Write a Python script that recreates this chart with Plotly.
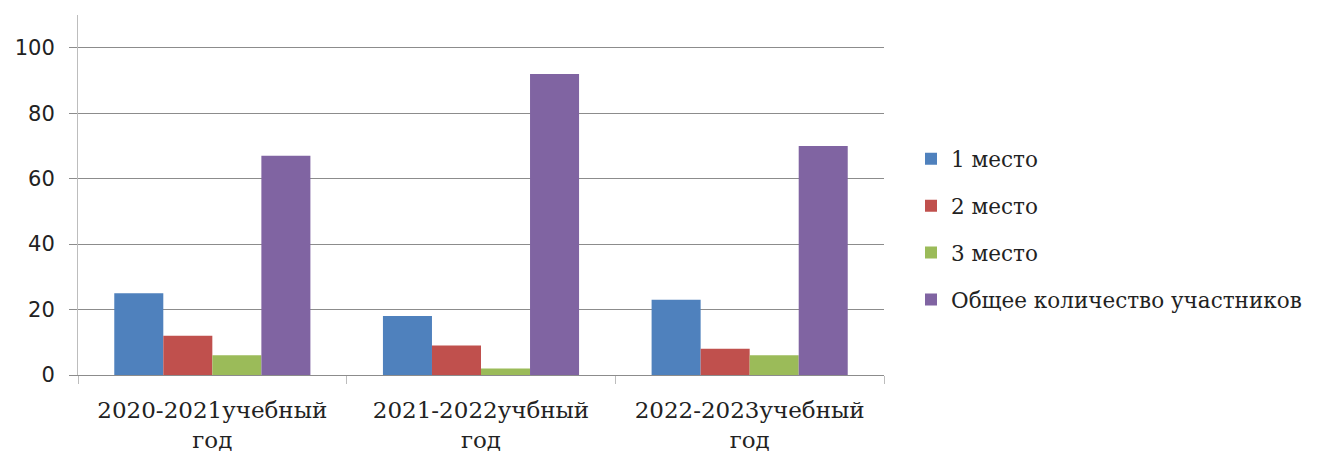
import plotly.graph_objects as go

categories = ["2020-2021учебный<br>год", "2021-2022учбный<br>год", "2022-2023учебный<br>год"]
series_names = ["1 место", "2 место", "3 место", "Общее количество участников"]
first_place = [25, 18, 23]
second_place = [12, 9, 8]
third_place = [6, 2, 6]
total_participants = [67, 92, 70]
colors = ["#4F81BD", "#C0504D", "#9BBB59", "#8064A2"]

fig = go.Figure()
for i, (name, vals) in enumerate(zip(series_names, [first_place, second_place, third_place, total_participants])):
    fig.add_trace(go.Bar(
        x=categories, y=vals, name=name, legendgroup=f"g{i}",
        marker=dict(color=colors[i], line=dict(width=0)),
    ))

fig.update_layout(
    width=1320, height=451,
    margin=dict(l=78, r=436, t=15, b=76),
    plot_bgcolor="white", paper_bgcolor="white",
    barmode="group", bargap=0.27, bargroupgap=0,
    font=dict(family="DejaVu Serif", size=21.5, color="#222222"),
    legend=dict(x=1.0335, xanchor="left", y=0.405, yanchor="middle",
                font=dict(family="DejaVu Serif", size=21.5, color="#222222"),
                tracegroupgap=16, itemwidth=30),
    showlegend=True,
)
fig.update_xaxes(
    showline=True, linecolor="#8c8c8c", linewidth=1,
    ticks="outside", tickson="boundaries", ticklen=8, tickcolor="#bdbdbd",
    tickfont=dict(family="DejaVu Serif", size=23, color="#222222"),
    ticklabelstandoff=14,
    showgrid=False, automargin=False,
)
fig.update_yaxes(
    range=[0, 110], tick0=0, dtick=20,
    showline=True, linecolor="#bdbdbd", linewidth=1,
    ticks="outside", ticklen=8, tickcolor="#8c8c8c",
    showgrid=True, gridcolor="#8c8c8c", gridwidth=1,
    zeroline=True, zerolinecolor="#8c8c8c", zerolinewidth=1,
    tickfont=dict(family="DejaVu Sans", size=21, color="#222222"),
    ticklabelstandoff=10, automargin=False,
)

fig.write_html(
    "out.html",
    config={"displayModeBar": False},
    post_script="document.body.style.margin='0';document.body.style.overflow='hidden';",
)
